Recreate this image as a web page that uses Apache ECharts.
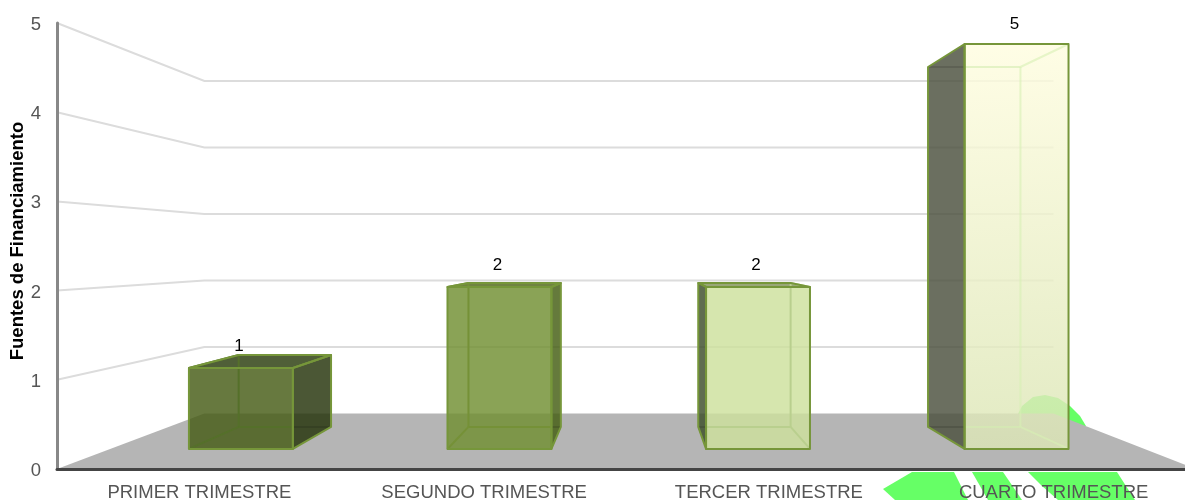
<!DOCTYPE html>
<html>
<head>
<meta charset="utf-8">
<style>
html, body { margin: 0; padding: 0; background: #fff; }
#chart { width: 1185px; height: 500px; }
</style>
<script src="https://cdn.jsdelivr.net/npm/echarts@6/dist/echarts.min.js"></script>
</head>
<body>
<div id="chart"></div>
<script>
var categories = ["PRIMER TRIMESTRE", "SEGUNDO TRIMESTRE", "TERCER TRIMESTRE", "CUARTO TRIMESTRE"];
var values = [1, 2, 2, 5];
var yTicks = [0, 1, 2, 3, 4, 5];
var yTitle = "Fuentes de Financiamiento";

// one look per bar: front fill, side fill, top fill, inner edge colour
var frontFills = [
    "rgba(70,91,21,0.82)",
    "rgba(112,143,49,0.82)",
    "rgba(205,224,156,0.82)",
    null
];
var sideFills = ["rgba(35,50,9,0.82)", "rgba(67,93,17,0.82)", "rgba(60,77,41,0.82)", "rgba(74,79,61,0.82)"];
var topFills = ["rgba(42,60,12,0.82)", "rgba(80,104,25,0.82)", "rgba(130,147,90,0.82)", "rgba(74,79,61,0.82)"];
var innerEdges = ["#55702a", "#759137", "#b9cf8e", "rgba(215,240,180,0.6)"];

// perspective view: everything shrinks towards this point going back
var vanishX = 636;
var vanishY = 251;
var scaleBack = 0.7455;
var scaleBarFront = 0.908;
var scaleBarBack = 0.807;
var barRatio = 0.402;
var barShift = 1.5;

var edgeColor = "#76963a";
var fontName = '"Liberation Sans", Arial, sans-serif';

function project(p, s) {
    return [vanishX + (p[0] - vanishX) * s, vanishY + (p[1] - vanishY) * s];
}

function renderFloor(params, api) {
    var g = params.coordSys;
    var bottom = g.y + g.height;
    return {
        type: "polygon",
        shape: {
            points: [
                [g.x, bottom],
                project([g.x, bottom], scaleBack),
                project([g.x + g.width, bottom], scaleBack),
                [g.x + g.width, bottom]
            ]
        },
        style: { fill: "#b5b5b5" }
    };
}

function renderWallLine(params, api) {
    var g = params.coordSys;
    var y = api.coord([0, api.value(1)])[1];
    return {
        type: "polyline",
        shape: {
            points: [
                [g.x, y],
                project([g.x, y], scaleBack),
                project([g.x + g.width, y], scaleBack)
            ]
        },
        style: { fill: null, stroke: "#dcdcdc", lineWidth: 2 }
    };
}

function quad(points, fill, stroke, width) {
    return {
        type: "polygon",
        shape: { points: points },
        style: { fill: fill || null, stroke: stroke || null, lineWidth: width || 0, lineJoin: "round" }
    };
}

function edge(a, b, color) {
    return {
        type: "line",
        shape: { x1: a[0], y1: a[1], x2: b[0], y2: b[1] },
        style: { stroke: color, lineWidth: 2 }
    };
}

// keep only the part of a-b that lies between two x values
function clipX(a, b, xMin, xMax) {
    function at(x) {
        return [x, a[1] + (b[1] - a[1]) * (x - a[0]) / (b[0] - a[0])];
    }
    if (a[0] === b[0]) return [a, b];
    var p = a[0] < b[0] ? a : b;
    var q = a[0] < b[0] ? b : a;
    if (p[0] < xMin) p = at(xMin);
    if (q[0] > xMax) q = at(xMax);
    return [p, q];
}

function renderBar(params, api) {
    var i = api.value(0);
    var base = api.coord([i, 0]);
    var tip = api.coord([i, api.value(1)]);
    var half = api.size([1, 0])[0] * barRatio / 2;
    var left = base[0] + barShift - half, right = base[0] + barShift + half;

    var fbl = project([left, base[1]], scaleBarFront);
    var fbr = project([right, base[1]], scaleBarFront);
    var ftl = project([left, tip[1]], scaleBarFront);
    var ftr = project([right, tip[1]], scaleBarFront);
    var bbl = project([left, base[1]], scaleBarBack);
    var bbr = project([right, base[1]], scaleBarBack);
    var btl = project([left, tip[1]], scaleBarBack);
    var btr = project([right, tip[1]], scaleBarBack);

    var rightVisible = base[0] < vanishX;
    var roofVisible = ftl[1] > btl[1];
    var children = [];
    var sideFace = rightVisible ? [ftr, btr, bbr, fbr] : [ftl, btl, bbl, fbl];
    var roofFace = [ftl, btl, btr, ftr];
    var frontFace = [ftl, ftr, fbr, fbl];

    children.push(quad(sideFace, sideFills[i]));
    if (roofVisible) children.push(quad(roofFace, topFills[i]));

    // back edges running behind the dark side face, hardly visible there
    var backEdges = [[btl, btr], [bbl, bbr]];
    backEdges.forEach(function (e) {
        children.push(edge(e[0], e[1], "rgba(0,0,0,0.12)"));
    });

    var front = frontFills[i] || {
        type: "linear", x: 0, y: 0, x2: 0.25, y2: 1,
        colorStops: [
            { offset: 0, color: "rgba(255,253,224,0.82)" },
            { offset: 1, color: "rgba(220,230,182,0.82)" }
        ]
    };
    children.push(quad(frontFace, front));

    // edges seen through the front glass
    [
        [btl, btr], [btr, bbr], [bbr, bbl], [bbl, btl],
        [fbl, bbl], [fbr, bbr], [ftl, btl], [ftr, btr]
    ].forEach(function (e) {
        var seg = clipX(e[0], e[1], ftl[0], ftr[0]);
        if (seg[0][0] >= ftl[0] && seg[1][0] <= ftr[0]) {
            children.push(edge(seg[0], seg[1], innerEdges[i]));
        }
    });

    // outline of the box as seen from the camera
    children.push(quad(sideFace, null, edgeColor, 2));
    if (roofVisible) children.push(quad(roofFace, null, edgeColor, 2));
    children.push(quad(frontFace, null, edgeColor, 2));

    children.push({
        type: "text",
        style: {
            x: (ftl[0] + ftr[0]) / 2 - 2,
            y: Math.max(ftl[1] - 22, 24),
            text: String(api.value(1)),
            fill: "#000",
            font: "17px " + fontName,
            align: "center",
            verticalAlign: "middle"
        }
    });

    return { type: "group", children: children };
}

var chart = echarts.init(document.getElementById("chart"), null, { renderer: "canvas" });

chart.setOption({
    animation: false,
    backgroundColor: "#fff",
    grid: { left: 57, top: 23, width: 1139, height: 446, outerBoundsMode: "none" },
    xAxis: {
        type: "category",
        data: categories,
        z: 6,
        axisLine: { lineStyle: { color: "#444", width: 3 } },
        axisTick: { show: false },
        splitLine: { show: false },
        axisLabel: { color: "#555", fontSize: 18.5, fontFamily: fontName, margin: 14, interval: 0 }
    },
    yAxis: {
        type: "value",
        min: 0,
        max: 5,
        interval: 1,
        z: 6,
        name: yTitle,
        nameLocation: "middle",
        nameGap: 30,
        nameMoveOverlap: false,
        nameTextStyle: { color: "#000", fontSize: 18.5, fontWeight: "bold", fontFamily: fontName, padding: [0, 0, 0, 10] },
        axisLine: { show: true, lineStyle: { color: "#888", width: 3 } },
        axisTick: { show: false },
        splitLine: { show: false },
        axisLabel: { color: "#555", fontSize: 18.5, fontFamily: fontName, margin: 16, verticalAlign: "top", lineHeight: 4 }
    },
    // green shapes of the page background that peek out around the plot
    graphic: [
        { type: "polygon", z: 0, shape: { points: [[883, 489], [912, 472], [954, 472], [968, 500], [895, 500]] }, style: { fill: "#66ff66" } },
        { type: "polygon", z: 0, shape: { points: [[972, 472], [1003, 472], [1022, 500], [988, 500]] }, style: { fill: "#66ff66" } },
        { type: "polygon", z: 0, shape: { points: [[1028, 472], [1117, 472], [1135, 500], [1058, 500], [1042, 486]] }, style: { fill: "#66ff66" } },
        { type: "polygon", z: 0, shape: { points: [[1016, 418], [1022, 406], [1033, 397], [1045, 395], [1058, 398], [1070, 406], [1080, 416], [1086, 426], [1040, 426]] }, style: { fill: "#66ff66" } }
    ],
    series: [
        { type: "custom", z: 1, silent: true, data: [[0, 0]], renderItem: renderFloor },
        { type: "custom", z: 2, silent: true, data: yTicks.slice(1).map(function (t) { return [0, t]; }), renderItem: renderWallLine },
        { type: "custom", z: 3, silent: true, data: values.map(function (v, i) { return [i, v]; }), encode: { x: 0, y: 1 }, renderItem: renderBar }
    ]
});
</script>
</body>
</html>
